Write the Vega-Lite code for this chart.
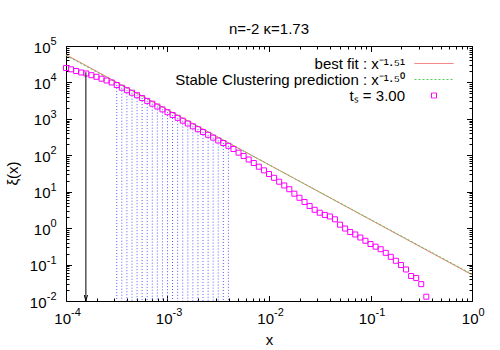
{
  "$schema": "https://vega.github.io/schema/vega-lite/v6.json",
  "width": 406,
  "height": 255,
  "autosize": {"type": "none"},
  "padding": {"left": 66, "top": 46, "right": 28, "bottom": 49},
  "background": "white",
  "title": {"text": "n=-2 κ=1.73", "fontSize": 15, "font": "Liberation Sans", "fontWeight": "normal", "anchor": "middle", "offset": -1, "color": "black"},
  "config": {
    "font": "Liberation Sans",
    "view": {"stroke": "black", "strokeWidth": 1},
    "axis": {"grid": false, "domain": false, "labelOverlap": false, "labelFlush": false, "labelBound": false, "labelColor": "black", "labelFont": "Liberation Sans", "titleFont": "Liberation Sans", "titleFontWeight": "normal", "titleFontSize": 15, "titleColor": "black", "tickColor": "black", "tickWidth": 1}
  },
  "datasets": {
    "pts": [
      {"x": 0.0001, "y": 24900}, {"x": 0.0001122, "y": 22900}, {"x": 0.0001259, "y": 20600}, {"x": 0.0001413, "y": 18750},
      {"x": 0.0001585, "y": 17600}, {"x": 0.0001778, "y": 15800}, {"x": 0.0001995, "y": 14260}, {"x": 0.0002239, "y": 12650},
      {"x": 0.0002512, "y": 11300}, {"x": 0.0002818, "y": 9950}, {"x": 0.0003162, "y": 8490}, {"x": 0.0003548, "y": 7160},
      {"x": 0.0003981, "y": 6120}, {"x": 0.0004467, "y": 5220}, {"x": 0.0005012, "y": 4460}, {"x": 0.0005623, "y": 3730},
      {"x": 0.000631, "y": 3110}, {"x": 0.0007079, "y": 2610}, {"x": 0.0007943, "y": 2180}, {"x": 0.0008913, "y": 1820},
      {"x": 0.001, "y": 1524}, {"x": 0.001122, "y": 1276}, {"x": 0.001259, "y": 1067}, {"x": 0.001413, "y": 891},
      {"x": 0.001585, "y": 746}, {"x": 0.001778, "y": 624}, {"x": 0.001995, "y": 521}, {"x": 0.002239, "y": 436},
      {"x": 0.002512, "y": 365}, {"x": 0.002818, "y": 305.5}, {"x": 0.003162, "y": 254.7}, {"x": 0.003548, "y": 217.3},
      {"x": 0.003981, "y": 182}, {"x": 0.004467, "y": 148.9}, {"x": 0.005012, "y": 117.8}, {"x": 0.005623, "y": 95.7},
      {"x": 0.00631, "y": 76.6}, {"x": 0.007079, "y": 61.4}, {"x": 0.007943, "y": 48.5}, {"x": 0.008913, "y": 38.6},
      {"x": 0.01, "y": 30.6}, {"x": 0.01122, "y": 24.1}, {"x": 0.01259, "y": 18.84}, {"x": 0.01413, "y": 14.83},
      {"x": 0.01585, "y": 11.72}, {"x": 0.01778, "y": 8.81}, {"x": 0.01995, "y": 6.81}, {"x": 0.02239, "y": 5.22},
      {"x": 0.02512, "y": 4.06}, {"x": 0.02818, "y": 3.19}, {"x": 0.03162, "y": 2.65}, {"x": 0.03548, "y": 2.3},
      {"x": 0.03981, "y": 2.09}, {"x": 0.04467, "y": 1.75}, {"x": 0.05012, "y": 1.245}, {"x": 0.05623, "y": 0.977},
      {"x": 0.0631, "y": 0.783}, {"x": 0.07079, "y": 0.67}, {"x": 0.07943, "y": 0.553}, {"x": 0.08913, "y": 0.45},
      {"x": 0.1, "y": 0.367}, {"x": 0.1122, "y": 0.31}, {"x": 0.1259, "y": 0.264}, {"x": 0.1413, "y": 0.21},
      {"x": 0.1585, "y": 0.163}, {"x": 0.1778, "y": 0.127}, {"x": 0.1995, "y": 0.0973}, {"x": 0.2239, "y": 0.0733},
      {"x": 0.2512, "y": 0.0485}, {"x": 0.2818, "y": 0.0429}, {"x": 0.3162, "y": 0.029}, {"x": 0.3548, "y": 0.0131}
    ],
    "fit": [
      {"series": "best fit : x⁻¹·⁵¹", "x": 0.0001, "y": 57544},
      {"series": "best fit : x⁻¹·⁵¹", "x": 1, "y": 0.05248},
      {"series": "Stable Clustering prediction : x⁻¹·⁵⁰", "x": 0.0001, "y": 54954},
      {"series": "Stable Clustering prediction : x⁻¹·⁵⁰", "x": 1, "y": 0.05495}
    ],
    "arrow": [{"x": 0.000157, "ytop": 19000, "ybot": 0.01}]
  },
  "layer": [
    {
      "data": {"name": "pts"},
      "transform": [{"filter": "datum.x >= 0.0003 && datum.x <= 0.0042"}],
      "mark": {"type": "rule", "color": "#5a5aff", "strokeDash": [1, 2], "strokeWidth": 1},
      "encoding": {
        "x": {"field": "x", "type": "quantitative", "scale": {"type": "log", "domain": [0.0001, 1], "nice": false},
          "axis": {"orient": "bottom", "labels": false, "ticks": true, "domain": false,
            "values": [0.0001,0.0002,0.0003,0.0004,0.0005,0.0006,0.0007,0.0008,0.0009,0.001,0.002,0.003,0.004,0.005,0.006,0.007,0.008,0.009,0.01,0.02,0.03,0.04,0.05,0.06,0.07,0.08,0.09,0.1,0.2,0.3,0.4,0.5,0.6,0.7,0.8,0.9,1],
            "tickSize": {"condition": {"test": "abs(log(datum.value)/LN10 - round(log(datum.value)/LN10)) < 0.001", "value": -5.5}, "value": -3},
            "title": "x", "titleX": 203, "titleY": 43, "titleBaseline": "alphabetic", "titleAlign": "center"}},
        "y": {"field": "y", "type": "quantitative", "scale": {"type": "log", "domain": [0.01, 100000], "nice": false},
          "axis": {"orient": "left", "labels": false, "ticks": true, "domain": false,
            "values": [0.01,0.02,0.03,0.04,0.05,0.06,0.07,0.08,0.09,0.1,0.2,0.3,0.4,0.5,0.6,0.7,0.8,0.9,1,2,3,4,5,6,7,8,9,10,20,30,40,50,60,70,80,90,100,200,300,400,500,600,700,800,900,1000,2000,3000,4000,5000,6000,7000,8000,9000,10000,20000,30000,40000,50000,60000,70000,80000,90000,100000],
            "tickSize": {"condition": {"test": "abs(log(datum.value)/LN10 - round(log(datum.value)/LN10)) < 0.001", "value": -5.5}, "value": -3},
            "title": "ξ(x)", "titleX": -54, "titleY": 127, "titleBaseline": "middle", "titleAlign": "center", "titleAngle": -90}},
        "y2": {"datum": 0.01}
      }
    },
    {
      "data": {"name": "fit"},
      "mark": {"type": "line", "strokeWidth": 1, "clip": true},
      "encoding": {
        "x": {"field": "x", "type": "quantitative", "scale": {"type": "log", "domain": [0.0001, 1], "nice": false},
          "axis": {"orient": "bottom", "ticks": false, "domain": false, "values": [0.0001, 0.001, 0.01, 0.1, 1],
            "labelExpr": "'10'", "labelFontSize": 15, "labelAlign": "right", "labelBaseline": "alphabetic", "labelPadding": 22,
            "labelOffset": {"condition": {"test": "datum.value >= 1", "value": 6}, "value": 4.5}, "title": null}},
        "y": {"field": "y", "type": "quantitative", "scale": {"type": "log", "domain": [0.01, 100000], "nice": false},
          "axis": {"orient": "left", "ticks": false, "domain": false, "values": [0.01, 0.1, 1, 10, 100, 1000, 10000, 100000],
            "labelExpr": "'10'", "labelFontSize": 15, "labelAlign": "right", "labelBaseline": "middle",
            "labelPadding": {"condition": {"test": "datum.value >= 1", "value": 16}, "value": 20}, "labelOffset": 1, "title": null}},
        "color": {"field": "series", "type": "nominal",
          "scale": {"domain": ["best fit : x⁻¹·⁵¹", "Stable Clustering prediction : x⁻¹·⁵⁰", "tₛ = 3.00"], "range": ["#f06060", "#50d050", "#ff00ff"]},
          "legend": {"orient": "none", "direction": "vertical", "legendX": 360.5, "legendY": 10, "title": null, "padding": 0,
            "labelAlign": "right", "labelOffset": -36.5, "labelFontSize": 15, "labelFont": "Liberation Sans", "labelColor": "black", "labelLimit": 0,
            "labelBaseline": "middle", "symbolSize": 25, "symbolStrokeWidth": 1, "rowPadding": -4}},
        "strokeDash": {"field": "series", "type": "nominal",
          "scale": {"domain": ["best fit : x⁻¹·⁵¹", "Stable Clustering prediction : x⁻¹·⁵⁰", "tₛ = 3.00"], "range": [[1, 0], [2, 2], [1, 0]]}}
      }
    },
    {
      "data": {"name": "pts"},
      "mark": {"type": "point", "filled": false, "size": 25, "strokeWidth": 1, "opacity": 1},
      "encoding": {
        "x": {"field": "x", "type": "quantitative", "scale": {"type": "log", "domain": [0.0001, 1], "nice": false},
          "axis": {"orient": "bottom", "ticks": false, "domain": false, "values": [0.0001, 0.001, 0.01, 0.1, 1],
            "labelExpr": "'' + round(log(datum.value)/LN10)", "labelFontSize": 11, "labelAlign": "left", "labelBaseline": "alphabetic", "labelPadding": 14,
            "labelOffset": {"condition": {"test": "datum.value >= 1", "value": 6}, "value": 4.5}, "title": null}},
        "y": {"field": "y", "type": "quantitative", "scale": {"type": "log", "domain": [0.01, 100000], "nice": false},
          "axis": {"orient": "left", "ticks": false, "domain": false, "values": [0.01, 0.1, 1, 10, 100, 1000, 10000, 100000],
            "labelExpr": "'' + round(log(datum.value)/LN10)", "labelFontSize": 11, "labelAlign": "right", "labelBaseline": "middle",
            "labelPadding": 10, "labelOffset": -4.5, "title": null}},
        "color": {"datum": "tₛ = 3.00", "type": "nominal",
          "scale": {"domain": ["best fit : x⁻¹·⁵¹", "Stable Clustering prediction : x⁻¹·⁵⁰", "tₛ = 3.00"], "range": ["#f06060", "#50d050", "#ff00ff"]}},
        "shape": {"datum": "tₛ = 3.00", "type": "nominal",
          "scale": {"domain": ["best fit : x⁻¹·⁵¹", "Stable Clustering prediction : x⁻¹·⁵⁰", "tₛ = 3.00"], "range": ["M-7.8,0H7.8", "M-7.8,0H7.8", "M-1,-1H1V1H-1Z"]}}
      }
    },
    {
      "data": {"name": "arrow"},
      "mark": {"type": "rule", "color": "black", "strokeWidth": 1},
      "encoding": {
        "x": {"field": "x", "type": "quantitative", "scale": {"type": "log", "domain": [0.0001, 1], "nice": false},
          "axis": {"orient": "top", "labels": false, "ticks": true, "domain": false,
            "values": [0.0001,0.0002,0.0003,0.0004,0.0005,0.0006,0.0007,0.0008,0.0009,0.001,0.002,0.003,0.004,0.005,0.006,0.007,0.008,0.009,0.01,0.02,0.03,0.04,0.05,0.06,0.07,0.08,0.09,0.1,0.2,0.3,0.4,0.5,0.6,0.7,0.8,0.9,1],
            "tickSize": {"condition": {"test": "abs(log(datum.value)/LN10 - round(log(datum.value)/LN10)) < 0.001", "value": -5.5}, "value": -3},
            "title": null}},
        "y": {"field": "ytop", "type": "quantitative", "scale": {"type": "log", "domain": [0.01, 100000], "nice": false},
          "axis": {"orient": "right", "labels": false, "ticks": true, "domain": false,
            "values": [0.01,0.02,0.03,0.04,0.05,0.06,0.07,0.08,0.09,0.1,0.2,0.3,0.4,0.5,0.6,0.7,0.8,0.9,1,2,3,4,5,6,7,8,9,10,20,30,40,50,60,70,80,90,100,200,300,400,500,600,700,800,900,1000,2000,3000,4000,5000,6000,7000,8000,9000,10000,20000,30000,40000,50000,60000,70000,80000,90000,100000],
            "tickSize": {"condition": {"test": "abs(log(datum.value)/LN10 - round(log(datum.value)/LN10)) < 0.001", "value": -5.5}, "value": -3},
            "title": null}},
        "y2": {"field": "ybot"}
      }
    },
    {
      "data": {"name": "arrow"},
      "mark": {"type": "point", "shape": "M-0.4,-1.5L0,0L0.4,-1.5", "size": 64, "filled": false, "color": "black", "strokeWidth": 1, "opacity": 1},
      "encoding": {
        "x": {"field": "x", "type": "quantitative", "scale": {"type": "log", "domain": [0.0001, 1], "nice": false}, "axis": null},
        "y": {"field": "ybot", "type": "quantitative", "scale": {"type": "log", "domain": [0.01, 100000], "nice": false}, "axis": null}
      }
    }
  ],
  "resolve": {"axis": {"x": "independent", "y": "independent"}}
}
